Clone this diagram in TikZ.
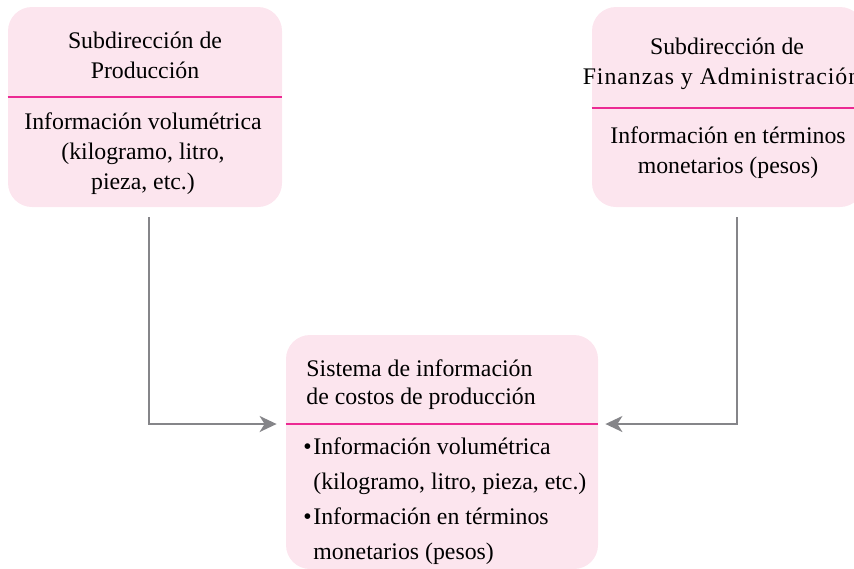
\documentclass[tikz,border=0pt]{standalone}
\usepackage{fontspec}
\setmainfont{Liberation Serif}
\usetikzlibrary{arrows.meta,positioning}
\definecolor{boxpink}{HTML}{FCE5EE}
\definecolor{divpink}{HTML}{EC2A93}
\definecolor{linegray}{HTML}{858589}
\newcommand\bul{\makebox[5pt][l]{\textbullet}}
\newcommand\nobul{\makebox[5pt][l]{}}
\tikzset{>={Stealth[length=8.5pt,width=8pt,inset=2.5pt]}}
\tikzset{
  infobox/.style={fill=boxpink,rounded corners=12pt,inner sep=0pt},
  divline/.style={draw=divpink,line width=0.7pt},
  link/.style={draw=linegray,line width=1pt,->},
  txt/.style={inner sep=0pt,font=\fontsize{11.9}{15}\selectfont}
}

\begin{document}
\begin{tikzpicture}[x=0.5pt,y=-0.5pt]
\clip (0,0) rectangle (854,568);

% the three boxes
\node[infobox,minimum width=137pt,minimum height=100pt] (prod) at (145,107) {};
\node[infobox,minimum width=136pt,minimum height=100pt] (fin) at (728,107) {};
\node[infobox,minimum width=156pt,minimum height=117pt] (sist) at (442,452) {};

% dividers
\coordinate (pd) at (0,97);
\coordinate (fd) at (0,108);
\coordinate (sd) at (0,424);
\draw[divline] (prod.west |- pd) -- (prod.east |- pd);
\draw[divline] (fin.west |- fd) -- (fin.east |- fd);
\draw[divline] (sist.west |- sd) -- (sist.east |- sd);

% texts
\node[txt,align=center] (prodhead) at (145,55) {Subdirección de\\Producción};
\node[txt,align=center] (prodbody) at (143,154) {Información volumétrica\\(kilogramo, litro,\\pieza, etc.)};
\node[txt,align=center] (finhead) at (727,64) {Subdirección de\\
  {\addfontfeature{LetterSpace=4}Finanzas y Administración}\hspace*{5.5pt}};
\node[txt,align=center] (finbody) at (728,153) {Información en términos\\monetarios (pesos)};
\node[txt,align=left,anchor=west,font=\fontsize{11.9}{14}\selectfont]
  (sisthead) at (306,385) {Sistema de información\\de costos de producción};
\node[txt,align=left,anchor=west,font=\fontsize{11.9}{17.5}\selectfont]
  (sistbody) at (303,501) {\bul Información volumétrica\\\nobul(kilogramo, litro, pieza, etc.)\\
  \bul Información en términos\\\nobul monetarios (pesos)};

% connectors
\coordinate (p1) at (149,217);
\coordinate (f1) at (737,217);
\draw[link,shorten >=4.5pt] (p1) |- (sist.west |- sd);
\draw[link,shorten >=3.5pt] (f1) |- (sist.east |- sd);
\end{tikzpicture}
\end{document}
